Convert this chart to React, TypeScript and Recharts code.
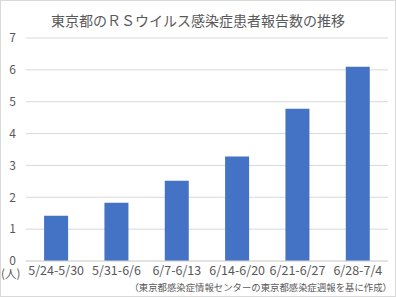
import { Bar, BarChart, CartesianGrid, XAxis, YAxis } from 'recharts';

const weeks = ['5/24-5/30', '5/31-6/6', '6/7-6/13', '6/14-6/20', '6/21-6/27', '6/28-7/4'];
const patients = [1.42, 1.83, 2.52, 3.28, 4.78, 6.1];
const yTicks = [0, 1, 2, 3, 4, 5, 6, 7];

const font = '"Noto Sans CJK JP", "Noto Sans", sans-serif';
const gray = '#595959';

export default function App() {
  const data = weeks.map((week, i) => ({ week, value: patients[i] }));

  return (
    <div
      style={{
        position: 'absolute',
        left: 0,
        top: 0,
        width: 396,
        height: 297,
        boxSizing: 'border-box',
        border: '1px solid #d9d9d9',
        background: '#fff',
        fontFamily: font,
        color: gray,
      }}
    >
      <div
        style={{
          position: 'absolute',
          left: -1,
          top: 9,
          width: 396,
          textAlign: 'center',
          fontSize: 14,
          lineHeight: '20px',
        }}
      >
        東京都のＲＳウイルス感染症患者報告数の推移
      </div>
      <div style={{ position: 'absolute', left: -1, top: -1 }}>
        <BarChart
          width={396}
          height={297}
          data={data}
          margin={{ top: 38, right: 8, bottom: 0, left: 0 }}
          barCategoryGap="30%"
        >
          <CartesianGrid vertical={false} stroke="#d9d9d9" />
          <XAxis
            dataKey="week"
            height={36}
            tickLine={false}
            tickSize={0}
            tickMargin={5}
            axisLine={{ stroke: '#d9d9d9' }}
            tick={{ fill: gray, fontSize: 12.5, fontFamily: font }}
            interval={0}
          />
          <YAxis
            width={26}
            domain={[0, 7]}
            ticks={yTicks}
            tickLine={false}
            axisLine={false}
            tickSize={8}
            tickMargin={2}
            tick={{ fill: gray, fontSize: 12, fontFamily: font }}
          />
          <Bar dataKey="value" fill="#4472C4" isAnimationActive={false} />
        </BarChart>
      </div>
      <div style={{ position: 'absolute', left: 0, top: 265, fontSize: 11.5, lineHeight: '14px' }}>
        (人)
      </div>
      <div
        style={{
          position: 'absolute',
          right: 3,
          top: 280,
          fontSize: 9.4,
          lineHeight: '13px',
          whiteSpace: 'nowrap',
        }}
      >
        （東京都感染症情報センターの東京都感染症週報を基に作成）
      </div>
    </div>
  );
}
